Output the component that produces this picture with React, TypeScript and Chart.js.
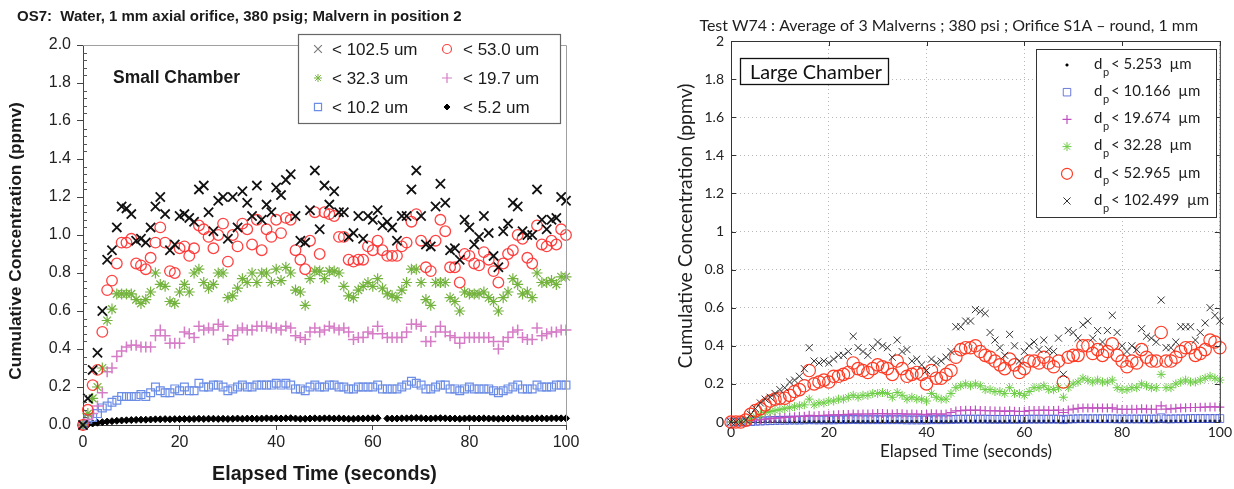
import React, { useEffect, useRef } from 'react';
import { Chart, registerables } from 'chart.js';

Chart.register(...registerables);

// ---------------- data ----------------
const TIME = [
  0, 1, 2, 3, 4, 5, 6, 7, 8, 9, 10, 11, 12, 13, 14, 15, 16, 17, 18, 19,
  20, 21, 22, 23, 24, 25, 26, 27, 28, 29, 30, 31, 32, 33, 34, 35, 36, 37, 38, 39,
  40, 41, 42, 43, 44, 45, 46, 47, 48, 49, 50, 51, 52, 53, 54, 55, 56, 57, 58, 59,
  60, 61, 62, 63, 64, 65, 66, 67, 68, 69, 70, 71, 72, 73, 74, 75, 76, 77, 78, 79,
  80, 81, 82, 83, 84, 85, 86, 87, 88, 89, 90, 91, 92, 93, 94, 95, 96, 97, 98, 99, 100,
];

const X_TICKS = [0, 20, 40, 60, 80, 100];
const LEFT_Y_TICKS = [0, 0.2, 0.4, 0.6, 0.8, 1.0, 1.2, 1.4, 1.6, 1.8, 2.0];
const RIGHT_Y_TICKS = [0, 0.2, 0.4, 0.6, 0.8, 1.0, 1.2, 1.4, 1.6, 1.8, 2.0];

// Small chamber (left)
const LEFT_LABELS = ['< 102.5 um', '< 53.0 um', '< 32.3 um', '< 19.7 um', '< 10.2 um', '< 5.2 um'];

const LEFT_X102 = [
  0.00, 0.14, 0.29, 0.38, 0.60, 0.87, 0.92, 1.04, 1.15, 1.14,
  1.11, 0.97, 0.98, 0.96, 1.04, 1.15, 1.20, 1.11, 0.92, 0.95,
  1.10, 1.11, 1.09, 1.07, 1.24, 1.26, 1.12, 1.02, 1.18, 1.20,
  0.98, 1.20, 1.04, 1.23, 1.17, 1.10, 1.26, 1.08, 1.16, 1.12,
  1.25, 1.21, 1.29, 1.32, 1.10, 0.97, 0.96, 1.13, 1.34, 1.03,
  1.26, 1.16, 1.23, 1.12, 1.12, 0.99, 1.01, 1.10, 0.98, 1.10,
  1.08, 1.13, 1.05, 1.07, 1.04, 0.97, 1.10, 1.10, 1.24, 1.34,
  1.10, 0.95, 0.94, 1.15, 1.27, 1.17, 0.92, 0.93, 0.87, 1.08,
  1.04, 0.95, 0.99, 1.10, 1.01, 0.89, 0.83, 1.02, 1.06, 1.17,
  1.15, 1.02, 1.00, 1.00, 1.24, 1.08, 1.03, 1.08, 1.09, 1.20,
  1.18,
];
const LEFT_O53 = [
  0.00, 0.08, 0.21, 0.29, 0.49, 0.71, 0.76, 0.85, 0.96, 0.96,
  0.98, 0.85, 0.84, 0.82, 0.88, 0.96, 1.04, 0.96, 0.81, 0.80,
  0.93, 0.94, 0.89, 0.93, 1.05, 1.03, 0.99, 0.93, 1.00, 1.06,
  0.86, 1.00, 0.94, 1.06, 1.03, 0.95, 1.08, 0.92, 1.03, 0.99,
  1.08, 1.01, 1.09, 1.08, 0.92, 0.87, 0.82, 0.97, 1.12, 0.90,
  1.12, 1.11, 1.10, 0.99, 0.99, 0.87, 0.86, 0.87, 0.87, 0.94,
  0.92, 0.97, 0.92, 0.89, 0.89, 0.89, 0.94, 0.96, 1.07, 1.11,
  0.97, 0.83, 0.81, 0.97, 1.08, 1.02, 0.83, 0.83, 0.75, 0.90,
  0.89, 0.85, 0.84, 0.91, 0.87, 0.81, 0.75, 0.85, 0.90, 0.92,
  1.00, 0.98, 0.88, 0.85, 1.05, 0.95, 0.94, 0.97, 0.95, 1.03,
  1.00,
];
const LEFT_S32 = [
  0.00, 0.06, 0.14, 0.20, 0.30, 0.55, 0.61, 0.69, 0.69, 0.69,
  0.69, 0.66, 0.64, 0.66, 0.70, 0.80, 0.74, 0.73, 0.65, 0.64,
  0.70, 0.74, 0.70, 0.80, 0.82, 0.75, 0.72, 0.74, 0.80, 0.80,
  0.67, 0.68, 0.72, 0.77, 0.75, 0.80, 0.75, 0.80, 0.80, 0.75,
  0.82, 0.76, 0.83, 0.80, 0.71, 0.70, 0.63, 0.77, 0.81, 0.81,
  0.77, 0.81, 0.81, 0.80, 0.73, 0.68, 0.67, 0.71, 0.73, 0.75,
  0.73, 0.77, 0.72, 0.69, 0.68, 0.67, 0.71, 0.75, 0.82, 0.82,
  0.75, 0.66, 0.63, 0.75, 0.75, 0.75, 0.67, 0.65, 0.60, 0.70,
  0.69, 0.69, 0.69, 0.70, 0.67, 0.65, 0.60, 0.67, 0.70, 0.77,
  0.74, 0.69, 0.70, 0.67, 0.80, 0.75, 0.75, 0.76, 0.74, 0.78,
  0.78,
];
const LEFT_P19 = [
  0.00, 0.03, 0.06, 0.10, 0.17, 0.28, 0.30, 0.36, 0.39, 0.41,
  0.42, 0.42, 0.41, 0.41, 0.41, 0.47, 0.50, 0.47, 0.43, 0.43,
  0.43, 0.49, 0.48, 0.46, 0.52, 0.50, 0.51, 0.50, 0.53, 0.52,
  0.45, 0.47, 0.50, 0.51, 0.50, 0.50, 0.52, 0.52, 0.52, 0.51,
  0.51, 0.50, 0.52, 0.51, 0.47, 0.46, 0.45, 0.49, 0.51, 0.49,
  0.50, 0.52, 0.51, 0.50, 0.51, 0.49, 0.45, 0.46, 0.46, 0.49,
  0.48, 0.52, 0.48, 0.46, 0.46, 0.46, 0.46, 0.49, 0.53, 0.53,
  0.52, 0.44, 0.44, 0.49, 0.52, 0.49, 0.47, 0.46, 0.43, 0.46,
  0.46, 0.46, 0.46, 0.46, 0.46, 0.44, 0.40, 0.44, 0.46, 0.49,
  0.50, 0.46, 0.45, 0.45, 0.51, 0.47, 0.48, 0.49, 0.49, 0.50,
  0.50,
];
const LEFT_B10 = [
  0.00, 0.03, 0.04, 0.06, 0.09, 0.10, 0.12, 0.13, 0.15, 0.15,
  0.15, 0.15, 0.16, 0.15, 0.17, 0.20, 0.18, 0.17, 0.17, 0.19,
  0.18, 0.20, 0.18, 0.18, 0.22, 0.20, 0.20, 0.21, 0.21, 0.20,
  0.18, 0.19, 0.20, 0.21, 0.20, 0.20, 0.21, 0.21, 0.21, 0.21,
  0.22, 0.21, 0.22, 0.21, 0.19, 0.19, 0.18, 0.20, 0.21, 0.20,
  0.20, 0.21, 0.21, 0.20, 0.20, 0.19, 0.19, 0.20, 0.20, 0.20,
  0.20, 0.21, 0.19, 0.19, 0.19, 0.19, 0.20, 0.21, 0.23, 0.22,
  0.21, 0.19, 0.19, 0.20, 0.21, 0.21, 0.19, 0.19, 0.18, 0.19,
  0.20, 0.19, 0.19, 0.19, 0.19, 0.18, 0.17, 0.18, 0.19, 0.20,
  0.21, 0.19, 0.19, 0.19, 0.21, 0.20, 0.20, 0.20, 0.21, 0.21,
  0.21,
];
const LEFT_D5 = [
  0.000, 0.003, 0.008, 0.012, 0.015, 0.018, 0.020, 0.022, 0.024, 0.025,
  0.026, 0.027, 0.028, 0.028, 0.029, 0.030, 0.030, 0.031, 0.030, 0.031,
  0.031, 0.032, 0.031, 0.032, 0.033, 0.032, 0.033, 0.033, 0.032, 0.033,
  0.032, 0.033, 0.034, 0.033, 0.034, 0.034, 0.033, 0.034, 0.035, 0.034,
  0.035, 0.034, 0.035, 0.036, 0.034, 0.033, 0.033, 0.034, 0.035, 0.034,
  0.035, 0.035, 0.034, 0.035, 0.034, 0.033, 0.033, 0.034, 0.034, 0.035,
  0.035, 0.036, null, 0.034, 0.034, 0.034, 0.035, 0.035, 0.036, 0.037,
  0.036, 0.034, 0.034, 0.035, 0.036, 0.035, 0.034, 0.034, 0.033, 0.034,
  0.035, 0.034, 0.034, 0.035, 0.034, 0.034, 0.033, 0.034, 0.034, 0.035,
  0.035, 0.034, 0.034, 0.034, 0.035, 0.035, 0.034, 0.035, 0.035, 0.035,
  0.035,
];

// Large chamber (right)
const RIGHT_LABELS = ['5.253', '10.166', '19.674', '32.28', '52.965', '102.499'];

const RIGHT_X102 = [
  0.00, 0.00, 0.00, 0.01, 0.04, 0.07, 0.10, 0.12, 0.13, 0.15,
  0.17, 0.18, 0.21, 0.22, 0.24, 0.28, 0.39, 0.32, 0.31, 0.32,
  0.31, 0.33, 0.35, 0.35, 0.37, 0.45, 0.39, 0.37, 0.35, 0.39,
  0.42, 0.40, 0.39, 0.34, 0.43, 0.37, 0.38, 0.32, 0.33, 0.30,
  0.27, 0.33, 0.31, 0.32, 0.34, 0.37, 0.50, 0.50, 0.53, 0.53,
  0.59, 0.58, 0.57, 0.47, 0.43, 0.39, 0.35, 0.46, 0.40, 0.32,
  0.37, 0.40, 0.42, 0.38, 0.43, 0.38, 0.37, 0.44, 0.25, 0.48,
  0.47, 0.44, 0.51, 0.53, 0.44, 0.48, 0.42, 0.48, 0.56, 0.47,
  0.40, 0.37, 0.40, 0.38, 0.49, 0.45, 0.44, 0.42, 0.64, 0.39,
  0.39, 0.42, 0.50, 0.50, 0.50, 0.43, 0.47, 0.52, 0.60, 0.56,
  0.53,
];
const RIGHT_O53 = [
  0.00, 0.00, 0.00, 0.01, 0.04, 0.06, 0.07, 0.09, 0.11, 0.12,
  0.125, 0.125, 0.14, 0.16, 0.17, 0.19, 0.27, 0.20, 0.21, 0.22,
  0.21, 0.24, 0.24, 0.25, 0.26, 0.31, 0.28, 0.27, 0.26, 0.28,
  0.30, 0.29, 0.28, 0.25, 0.32, 0.28, 0.24, 0.25, 0.26, 0.25,
  0.20, 0.27, 0.23, 0.23, 0.25, 0.27, 0.34, 0.38, 0.39, 0.39,
  0.40, 0.37, 0.35, 0.34, 0.32, 0.30, 0.28, 0.33, 0.30, 0.26,
  0.28, 0.32, 0.32, 0.31, 0.34, 0.31, 0.29, 0.32, 0.21, 0.34,
  0.35, 0.35, 0.40, 0.40, 0.36, 0.38, 0.35, 0.37, 0.41, 0.35,
  0.32, 0.29, 0.32, 0.31, 0.38, 0.34, 0.32, 0.32, 0.47, 0.32,
  0.32, 0.34, 0.37, 0.39, 0.39, 0.35, 0.36, 0.38, 0.43, 0.42,
  0.39,
];
const RIGHT_S32 = [
  0.000, 0.000, 0.000, 0.005, 0.020, 0.030, 0.040, 0.050, 0.055, 0.060,
  0.065, 0.070, 0.075, 0.080, 0.085, 0.090, 0.120, 0.090, 0.100, 0.100,
  0.110, 0.110, 0.120, 0.120, 0.130, 0.140, 0.130, 0.140, 0.140, 0.150,
  0.150, 0.155, 0.150, 0.130, 0.155, 0.140, 0.120, 0.130, 0.120, 0.120,
  0.110, 0.150, 0.130, 0.120, 0.120, 0.150, 0.180, 0.190, 0.200, 0.190,
  0.200, 0.190, 0.170, 0.170, 0.160, 0.160, 0.150, 0.180, 0.150, 0.150,
  0.140, 0.160, 0.180, 0.180, 0.190, 0.170, 0.170, 0.180, 0.130, 0.180,
  0.200, 0.210, 0.230, 0.220, 0.210, 0.220, 0.210, 0.210, 0.220, 0.180,
  0.170, 0.170, 0.180, 0.180, 0.200, 0.190, 0.180, 0.180, 0.250, 0.180,
  0.180, 0.200, 0.210, 0.220, 0.210, 0.210, 0.220, 0.230, 0.240, 0.230,
  0.220,
];
const RIGHT_P19 = [
  0.000, 0.000, 0.000, 0.000, 0.005, 0.010, 0.012, 0.015, 0.018, 0.020,
  0.022, 0.024, 0.026, 0.028, 0.030, 0.030, 0.035, 0.032, 0.034, 0.035,
  0.036, 0.037, 0.038, 0.039, 0.040, 0.042, 0.041, 0.042, 0.042, 0.043,
  0.044, 0.044, 0.043, 0.042, 0.044, 0.043, 0.041, 0.042, 0.041, 0.040,
  0.039, 0.043, 0.042, 0.041, 0.042, 0.050, 0.058, 0.060, 0.062, 0.061,
  0.063, 0.061, 0.060, 0.059, 0.058, 0.058, 0.056, 0.059, 0.057, 0.055,
  0.056, 0.060, 0.061, 0.061, 0.062, 0.061, 0.061, 0.062, 0.050, 0.063,
  0.068, 0.072, 0.074, 0.074, 0.073, 0.074, 0.073, 0.073, 0.074, 0.068,
  0.066, 0.066, 0.067, 0.067, 0.069, 0.068, 0.067, 0.067, 0.085, 0.068,
  0.069, 0.072, 0.074, 0.075, 0.076, 0.076, 0.077, 0.078, 0.079, 0.079,
  0.078,
];
const RIGHT_B10 = [
  0.000, 0.000, 0.000, 0.000, 0.002, 0.004, 0.005, 0.006, 0.007, 0.008,
  0.009, 0.009, 0.010, 0.010, 0.010, 0.011, 0.012, 0.011, 0.011, 0.011,
  0.011, 0.011, 0.012, 0.012, 0.012, 0.013, 0.012, 0.012, 0.012, 0.012,
  0.012, 0.012, 0.012, 0.012, 0.012, 0.012, 0.011, 0.011, 0.011, 0.011,
  0.011, 0.012, 0.012, 0.012, 0.012, 0.013, 0.014, 0.015, 0.015, 0.015,
  0.015, 0.015, 0.015, 0.014, 0.014, 0.014, 0.014, 0.014, 0.014, 0.014,
  0.014, 0.015, 0.015, 0.015, 0.015, 0.015, 0.015, 0.015, 0.012, 0.015,
  0.016, 0.017, 0.017, 0.017, 0.017, 0.017, 0.017, 0.017, 0.017, 0.016,
  0.016, 0.016, 0.016, 0.016, 0.016, 0.016, 0.016, 0.016, 0.022, 0.016,
  0.016, 0.017, 0.017, 0.017, 0.018, 0.018, 0.018, 0.018, 0.018, 0.018,
  0.018,
];
const RIGHT_D5 = [
  0.000, 0.000, 0.000, 0.000, 0.001, 0.001, 0.002, 0.002, 0.002, 0.003,
  0.003, 0.003, 0.003, 0.003, 0.003, 0.003, 0.004, 0.003, 0.003, 0.003,
  0.003, 0.003, 0.004, 0.004, 0.004, 0.004, 0.004, 0.004, 0.004, 0.004,
  0.004, 0.004, 0.004, 0.004, 0.004, 0.004, 0.004, 0.004, 0.004, 0.004,
  0.004, 0.004, 0.004, 0.004, 0.004, 0.004, 0.004, 0.005, 0.005, 0.005,
  0.005, 0.005, 0.005, 0.005, 0.004, 0.004, 0.004, 0.005, 0.004, 0.004,
  0.004, 0.005, 0.005, 0.005, 0.005, 0.005, 0.005, 0.005, 0.004, 0.005,
  0.005, 0.005, 0.005, 0.005, 0.005, 0.005, 0.005, 0.005, 0.005, 0.005,
  0.005, 0.005, 0.005, 0.005, 0.005, 0.005, 0.005, 0.005, 0.006, 0.005,
  0.005, 0.005, 0.005, 0.005, 0.005, 0.005, 0.005, 0.005, 0.005, 0.005,
  0.005,
];

const LEFT_TITLE = 'OS7:  Water, 1 mm axial orifice, 380 psig; Malvern in position 2';
const RIGHT_TITLE = 'Test W74 : Average of 3 Malverns ; 380 psi ; Orifice S1A \u2013 round, 1 mm';
const Y_TITLE = 'Cumulative Concentration (ppmv)';
const X_TITLE = 'Elapsed Time (seconds)';

// ---------------- styles ----------------
const LF = '"Liberation Sans", Arial, sans-serif';
const RF = 'Lato, "Open Sans", sans-serif';

const LEFT_STYLE = [
  { style: 'crossRot', r: 6.5, color: '#111111', fill: 'transparent', lw: 1.8 },
  { style: 'circle', r: 5.3, color: 'rgba(255,45,45,0.9)', fill: 'transparent', lw: 1.3 },
  { style: 'star', r: 5.5, color: '#74b33e', fill: 'transparent', lw: 1.2 },
  { style: 'cross', r: 5.5, color: '#d67cc6', fill: 'transparent', lw: 1.5 },
  { style: 'rect', r: 5.5, color: '#6c8de6', fill: 'transparent', lw: 1.2 },
  { style: 'rectRot', r: 3.5, color: '#000000', fill: '#000000', lw: 1 },
];
const LEFT_LEGEND_STYLE = [
  { style: 'crossRot', r: 5.5, color: '#7a7a7a', fill: 'transparent', lw: 1.2 },
  { style: 'circle', r: 4.5, color: 'rgba(255,45,45,0.9)', fill: 'transparent', lw: 1.2 },
  { style: 'star', r: 4, color: '#74b33e', fill: 'transparent', lw: 1 },
  { style: 'cross', r: 5, color: '#d67cc6', fill: 'transparent', lw: 1.2 },
  { style: 'rect', r: 5, color: '#6c8de6', fill: 'transparent', lw: 1.2 },
  { style: 'rectRot', r: 3, color: '#000000', fill: '#000000', lw: 1 },
];
// order: x102, o53, s32, p19, b10, d5
const RIGHT_STYLE = [
  { style: 'crossRot', r: 5, color: '#333333', fill: 'transparent', lw: 1 },
  { style: 'circle', r: 6.2, color: '#ff3b24', fill: 'transparent', lw: 1.2 },
  { style: 'star', r: 4.5, color: '#6ccd45', fill: 'transparent', lw: 1 },
  { style: 'cross', r: 4.5, color: '#c04fc0', fill: 'transparent', lw: 1.2 },
  { style: 'rect', r: 5.5, color: 'rgba(70,90,210,0.8)', fill: 'transparent', lw: 1 },
  { style: 'circle', r: 1.3, color: '#000000', fill: '#000000', lw: 0.5 },
];

type Pt = { x: number; y: number };
function toPoints(values: (number | null)[]): Pt[] {
  const pts: Pt[] = [];
  for (let i = 0; i < TIME.length; i++) {
    const v = values[i];
    if (v !== null && v !== undefined) pts.push({ x: TIME[i], y: v });
  }
  return pts;
}

function makeDataset(label: string, values: (number | null)[], s: any) {
  return {
    label,
    data: toPoints(values),
    pointStyle: s.style,
    pointRadius: s.r,
    pointHoverRadius: s.r,
    pointBorderColor: s.color,
    pointBackgroundColor: s.fill,
    pointBorderWidth: s.lw,
    showLine: false,
    clip: false as any,
  };
}

function drawMarker(ctx: CanvasRenderingContext2D, s: any, x: number, y: number) {
  const r = s.r;
  const d = r * Math.SQRT1_2;
  ctx.save();
  ctx.strokeStyle = s.color;
  ctx.fillStyle = s.fill;
  ctx.lineWidth = s.lw;
  ctx.beginPath();
  if (s.style === 'circle') ctx.arc(x, y, r, 0, Math.PI * 2);
  else if (s.style === 'rect') ctx.rect(x - d, y - d, 2 * d, 2 * d);
  else if (s.style === 'rectRot') {
    ctx.moveTo(x, y - r); ctx.lineTo(x + r, y); ctx.lineTo(x, y + r); ctx.lineTo(x - r, y); ctx.closePath();
  } else {
    if (s.style === 'cross' || s.style === 'star') {
      ctx.moveTo(x - r, y); ctx.lineTo(x + r, y); ctx.moveTo(x, y - r); ctx.lineTo(x, y + r);
    }
    if (s.style === 'crossRot' || s.style === 'star') {
      ctx.moveTo(x - d, y - d); ctx.lineTo(x + d, y + d); ctx.moveTo(x - d, y + d); ctx.lineTo(x + d, y - d);
    }
  }
  if (s.fill && s.fill !== 'transparent') ctx.fill();
  ctx.stroke();
  ctx.restore();
}

function fitSize(ctx: CanvasRenderingContext2D, text: string, weight: string, family: string, target: number) {
  ctx.font = `${weight} 100px ${family}`;
  const w = ctx.measureText(text).width;
  return (100 * target) / w;
}

// ---------------- plugins ----------------
const leftDecor = {
  id: 'leftDecor',
  afterDraw(chart: any) {
    const ctx: CanvasRenderingContext2D = chart.ctx;
    const a = chart.chartArea;
    const ys = chart.scales.y;
    ctx.save();
    // top and right frame
    ctx.strokeStyle = '#a0a0a0';
    ctx.lineWidth = 1;
    ctx.beginPath();
    ctx.moveTo(a.left, a.top + 0.5);
    ctx.lineTo(a.right + 0.5, a.top + 0.5);
    ctx.lineTo(a.right + 0.5, a.bottom);
    ctx.stroke();
    // minor ticks on y axis (inside)
    ctx.strokeStyle = '#555';
    ctx.beginPath();
    for (let i = 1; i < 50; i++) {
      if (i % 5 === 0) continue;
      const py = Math.round(ys.getPixelForValue(i * 0.04)) + 0.5;
      ctx.moveTo(a.left, py);
      ctx.lineTo(a.left + 4, py);
    }
    ctx.stroke();

    ctx.fillStyle = '#1a1a1a';
    ctx.textBaseline = 'alphabetic';
    // title
    ctx.textAlign = 'left';
    ctx.font = `bold 15px ${LF}`;
    ctx.fillText(LEFT_TITLE, 17, 20.5);
    // Small Chamber
    const sc = fitSize(ctx, 'Small Chamber', 'bold', LF, 127);
    ctx.font = `bold ${sc}px ${LF}`;
    ctx.fillText('Small Chamber', 113, 83);
    // x title
    const xs = fitSize(ctx, X_TITLE, 'bold', LF, 225);
    ctx.font = `bold ${xs}px ${LF}`;
    ctx.textAlign = 'center';
    ctx.fillText(X_TITLE, (a.left + a.right) / 2, 480);
    // y title
    const yt = fitSize(ctx, Y_TITLE, 'bold', LF, 278);
    ctx.font = `bold ${yt}px ${LF}`;
    ctx.save();
    ctx.translate(20.5, 241);
    ctx.rotate(-Math.PI / 2);
    ctx.textAlign = 'center';
    ctx.fillText(Y_TITLE, 0, 0);
    ctx.restore();

    // legend
    ctx.fillStyle = '#ffffff';
    ctx.fillRect(298.5, 34.5, 262, 89);
    ctx.strokeStyle = '#666666';
    ctx.lineWidth = 1.2;
    ctx.strokeRect(298.5, 34.5, 262, 89);
    const colMarker = [318, 447];
    const colText = [332, 463];
    const rowY = [49, 78, 107];
    ctx.font = `17px ${LF}`;
    ctx.textAlign = 'left';
    ctx.textBaseline = 'middle';
    for (let i = 0; i < LEFT_LABELS.length; i++) {
      const col = i % 2;
      const row = Math.floor(i / 2);
      drawMarker(ctx, LEFT_LEGEND_STYLE[i], colMarker[col], rowY[row]);
      ctx.fillStyle = '#1a1a1a';
      ctx.fillText(LEFT_LABELS[i], colText[col], rowY[row] + 1);
    }
    ctx.restore();
  },
};

const OX = 620;
const rightDecor = {
  id: 'rightDecor',
  afterDraw(chart: any) {
    const ctx: CanvasRenderingContext2D = chart.ctx;
    const a = chart.chartArea;
    const xs = chart.scales.x;
    const ys = chart.scales.y;
    ctx.save();
    ctx.strokeStyle = '#333333';
    ctx.lineWidth = 1;
    ctx.beginPath();
    ctx.moveTo(a.left, a.top + 0.5);
    ctx.lineTo(a.right + 0.5, a.top + 0.5);
    ctx.lineTo(a.right + 0.5, a.bottom);
    ctx.stroke();
    // inward ticks on four sides
    ctx.beginPath();
    for (const v of X_TICKS) {
      const px = Math.round(xs.getPixelForValue(v)) + 0.5;
      ctx.moveTo(px, a.bottom); ctx.lineTo(px, a.bottom - 5);
      ctx.moveTo(px, a.top); ctx.lineTo(px, a.top + 5);
    }
    for (const v of RIGHT_Y_TICKS) {
      const py = Math.round(ys.getPixelForValue(v)) + 0.5;
      ctx.moveTo(a.left, py); ctx.lineTo(a.left + 5, py);
      ctx.moveTo(a.right, py); ctx.lineTo(a.right - 5, py);
    }
    ctx.stroke();

    ctx.fillStyle = '#1e1e1e';
    ctx.textBaseline = 'alphabetic';
    // title
    const tsz = fitSize(ctx, 'W74 : Average of 3 Malverns ; 380 psi ; O', '400', RF, 293);
    ctx.font = `400 ${tsz}px ${RF}`;
    const pre = ctx.measureText('Test ').width;
    ctx.textAlign = 'left';
    ctx.fillText(RIGHT_TITLE, 732 - OX - pre, 31);
    // x title
    const xsz = fitSize(ctx, X_TITLE, '400', RF, 172);
    ctx.font = `400 ${xsz}px ${RF}`;
    ctx.textAlign = 'center';
    ctx.fillText(X_TITLE, 966 - OX, 457);
    // y title
    const ysz = fitSize(ctx, Y_TITLE, '400', RF, 285);
    ctx.font = `400 ${ysz}px ${RF}`;
    ctx.save();
    ctx.translate(692 - OX, 226);
    ctx.rotate(-Math.PI / 2);
    ctx.textAlign = 'center';
    ctx.fillText(Y_TITLE, 0, 0);
    ctx.restore();

    // Large Chamber box
    ctx.fillStyle = '#ffffff';
    ctx.fillRect(740.5 - OX, 58.5, 148, 26);
    ctx.strokeStyle = '#111111';
    ctx.lineWidth = 1.3;
    ctx.strokeRect(740.5 - OX, 58.5, 148, 26);
    const lsz = fitSize(ctx, 'Large Chamber', '400', RF, 132);
    ctx.font = `400 ${lsz}px ${RF}`;
    ctx.fillStyle = '#111111';
    ctx.textAlign = 'left';
    ctx.fillText('Large Chamber', 750 - OX, 79);

    // legend
    ctx.fillStyle = '#ffffff';
    ctx.fillRect(1036.5 - OX, 49.5, 180, 168);
    ctx.strokeStyle = '#333333';
    ctx.lineWidth = 1;
    ctx.strokeRect(1036.5 - OX, 49.5, 180, 168);
    const legendStyles = [RIGHT_STYLE[5], RIGHT_STYLE[4], RIGHT_STYLE[3], RIGHT_STYLE[2], RIGHT_STYLE[1], RIGHT_STYLE[0]];
    ctx.textBaseline = 'middle';
    for (let i = 0; i < RIGHT_LABELS.length; i++) {
      const y = 65 + i * 27.2;
      const s = { ...legendStyles[i] };
      if (i === 1) s.r = 5.3;
      if (i === 4) s.r = 5.5;
      drawMarker(ctx, s, 1067 - OX, y);
      ctx.fillStyle = '#1e1e1e';
      ctx.font = `15px ${RF}`;
      ctx.fillText('d', 1094 - OX, y - 1);
      const dw = ctx.measureText('d').width;
      ctx.font = `11px ${RF}`;
      ctx.fillText('p', 1094 - OX + dw + 0.5, y + 7);
      ctx.font = `15px ${RF}`;
      ctx.fillText('< ' + RIGHT_LABELS[i] + '  \u00b5m', 1111 - OX, y - 1);
    }
    ctx.restore();
  },
};

// ---------------- configs ----------------
function leftConfig(): any {
  const series = [LEFT_X102, LEFT_O53, LEFT_S32, LEFT_P19, LEFT_B10, LEFT_D5];
  return {
    type: 'scatter',
    data: { datasets: series.map((v, i) => makeDataset(LEFT_LABELS[i], v, LEFT_STYLE[i])) },
    options: {
      responsive: false,
      animation: false,
      devicePixelRatio: 1,
      events: [],
      layout: { padding: { left: 0, right: 54, top: 45, bottom: 0 } },
      plugins: { legend: { display: false }, tooltip: { enabled: false }, title: { display: false } },
      scales: {
        x: {
          type: 'linear', min: 0, max: 100,
          afterBuildTicks: (s: any) => { s.ticks = X_TICKS.map((v) => ({ value: v })); },
          afterFit: (s: any) => { s.height = 64; },
          ticks: { font: { family: LF, size: 16 }, color: '#222', padding: 3, maxRotation: 0, autoSkip: false },
          grid: { drawOnChartArea: false, drawTicks: true, tickLength: 5, tickColor: '#444', tickWidth: 1 },
          border: { display: true, color: '#444', width: 1 },
        },
        y: {
          type: 'linear', min: 0, max: 2,
          afterBuildTicks: (s: any) => { s.ticks = LEFT_Y_TICKS.map((v) => ({ value: v })); },
          afterFit: (s: any) => { s.width = 83; },
          ticks: {
            font: { family: LF, size: 16 }, color: '#222', padding: 6, autoSkip: false,
            callback: (v: any) => Number(v).toFixed(1),
          },
          grid: { drawOnChartArea: false, drawTicks: true, tickLength: 6, tickColor: '#444', tickWidth: 1 },
          border: { display: true, color: '#444', width: 1 },
        },
      },
    },
    plugins: [leftDecor],
  };
}

function rightConfig(): any {
  const series = [RIGHT_X102, RIGHT_O53, RIGHT_S32, RIGHT_P19, RIGHT_B10, RIGHT_D5];
  const labels = ['102.499', '52.965', '32.28', '19.674', '10.166', '5.253'];
  return {
    type: 'scatter',
    data: { datasets: series.map((v, i) => makeDataset('dp < ' + labels[i] + ' \u00b5m', v, RIGHT_STYLE[i])) },
    options: {
      responsive: false,
      animation: false,
      devicePixelRatio: 1,
      events: [],
      layout: { padding: { left: 0, right: 14, top: 41, bottom: 0 } },
      plugins: { legend: { display: false }, tooltip: { enabled: false }, title: { display: false } },
      scales: {
        x: {
          type: 'linear', min: 0, max: 100,
          afterBuildTicks: (s: any) => { s.ticks = X_TICKS.map((v) => ({ value: v })); },
          afterFit: (s: any) => { s.height = 67; },
          ticks: { font: { family: RF, size: 14 }, color: '#222', padding: 2, maxRotation: 0, autoSkip: false },
          grid: { drawOnChartArea: true, drawTicks: false, color: '#b8b8b8', lineWidth: 1 },
          border: { display: true, color: '#333', width: 1, dash: [1, 3] },
        },
        y: {
          type: 'linear', min: 0, max: 2,
          afterBuildTicks: (s: any) => { s.ticks = RIGHT_Y_TICKS.map((v) => ({ value: v })); },
          afterFit: (s: any) => { s.width = 111; },
          ticks: {
            font: { family: RF, size: 14 }, color: '#222', padding: 7, autoSkip: false,
            callback: (v: any) => String(Math.round(Number(v) * 10) / 10),
          },
          grid: { drawOnChartArea: true, drawTicks: false, color: '#b8b8b8', lineWidth: 1 },
          border: { display: true, color: '#333', width: 1, dash: [1, 3] },
        },
      },
    },
    plugins: [rightDecor],
  };
}

export default function App() {
  const leftRef = useRef<HTMLCanvasElement | null>(null);
  const rightRef = useRef<HTMLCanvasElement | null>(null);

  useEffect(() => {
    const c1 = new Chart(leftRef.current as HTMLCanvasElement, leftConfig());
    const c2 = new Chart(rightRef.current as HTMLCanvasElement, rightConfig());
    return () => {
      c1.destroy();
      c2.destroy();
    };
  }, []);

  return (
    <div style={{ position: 'absolute', left: 0, top: 0, width: 1234, height: 489, background: '#ffffff', overflow: 'hidden' }}>
      <canvas ref={leftRef} width={620} height={489} style={{ position: 'absolute', left: 0, top: 0, width: 620, height: 489 }} />
      <canvas ref={rightRef} width={614} height={489} style={{ position: 'absolute', left: OX, top: 0, width: 614, height: 489 }} />
    </div>
  );
}
